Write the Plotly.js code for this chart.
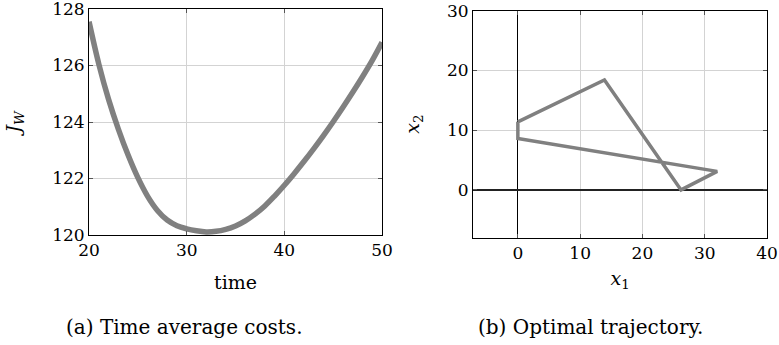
<!DOCTYPE html>
<html><head><meta charset="utf-8">
<script src="https://cdn.plot.ly/plotly-3.0.1.min.js"></script>
<style>html,body{margin:0;padding:0;background:#fff}#chart{width:779px;height:345px}</style>
</head><body><div id="chart"></div>
<script>
// (a) time average costs
const timeVals = [20,21,22,23,24,25,26,27,28,29,30,31,32,33,34,35,36,37,38,39,40,41,42,43,44,45,46,47,48,49,50];
const costVals = [127.55,126.05,124.8,123.75,122.83,122.03,121.37,120.87,120.53,120.33,120.22,120.15,120.11,120.13,120.2,120.32,120.5,120.74,121.03,121.38,121.76,122.17,122.6,123.05,123.52,124.01,124.52,125.05,125.6,126.18,126.82];
// (b) optimal trajectory
const x1Vals = [0, 13.9, 26.2, 32.0, 0, 0];
const x2Vals = [11.4, 18.4, 0.0, 3.1, 8.6, 11.4];

const xTicksA = [20,30,40,50], yTicksA = [120,122,124,126,128];
const xTicksB = [0,10,20,30,40], yTicksB = [0,10,20,30];

const FONT = "'DejaVu Serif', serif";
const axBase = {
  showline:true, linecolor:'#000', linewidth:1, mirror:'ticks',
  ticks:'inside', ticklen:4, tickcolor:'#555', tickwidth:1,
  showgrid:true, gridcolor:'#d3d3d3', gridwidth:1,
  tickfont:{family:FONT, size:17, color:'#000'}, ticklabeloverflow:'allow',
  zeroline:false, fixedrange:true
};

const data = [
  {x:timeVals, y:costVals, type:'scatter', mode:'lines', xaxis:'x', yaxis:'y',
   line:{color:'#808080', width:5.5, shape:'spline', smoothing:1}, hoverinfo:'skip'},
  {x:x1Vals, y:x2Vals, type:'scatter', mode:'lines', xaxis:'x2', yaxis:'y2',
   line:{color:'#808080', width:3.5}, hoverinfo:'skip'}
];

const layout = {
  width:779, height:345, margin:{l:0,r:0,t:0,b:0},
  paper_bgcolor:'#fff', plot_bgcolor:'#fff', showlegend:false,
  font:{family:FONT, size:17, color:'#000'},
  xaxis:Object.assign({}, axBase, {domain:[0.1143,0.4904], anchor:'y', range:[20,50],
    tickvals:xTicksA, title:{text:'time', font:{family:FONT,size:19}, standoff:16}}),
  yaxis:Object.assign({}, axBase, {domain:[0.3188,0.9739], anchor:'x', range:[120,128],
    tickvals:yTicksA, title:{text:'<i>J</i><sub><i>W</i></sub>', font:{family:FONT,size:19}, standoff:26}}),
  xaxis2:Object.assign({}, axBase, {domain:[0.6072,0.9846], anchor:'y2', range:[-7.2,40],
    tickvals:xTicksB, zeroline:true, zerolinecolor:'#000', zerolinewidth:1,
    title:{text:'<i>x</i><sub>1</sub>', font:{family:FONT,size:19}, standoff:9}}),
  yaxis2:Object.assign({}, axBase, {domain:[0.311,0.969], anchor:'x2', range:[-8,30],
    tickvals:yTicksB, zeroline:true, zerolinecolor:'#222', zerolinewidth:1.5,
    title:{text:'<i>x</i><sub>2</sub>', font:{family:FONT,size:19}, standoff:22}}),
  annotations:[
    {text:'(a) Time average costs.', xref:'paper', yref:'paper', x:184/779, y:1-327/345,
     showarrow:false, xanchor:'center', yanchor:'middle', font:{family:FONT,size:20}},
    {text:'(b) Optimal trajectory.', xref:'paper', yref:'paper', x:590/779, y:1-327/345,
     showarrow:false, xanchor:'center', yanchor:'middle', font:{family:FONT,size:20}}
  ]
};
Plotly.newPlot('chart', data, layout, {displayModeBar:false, staticPlot:true});
</script></body></html>
